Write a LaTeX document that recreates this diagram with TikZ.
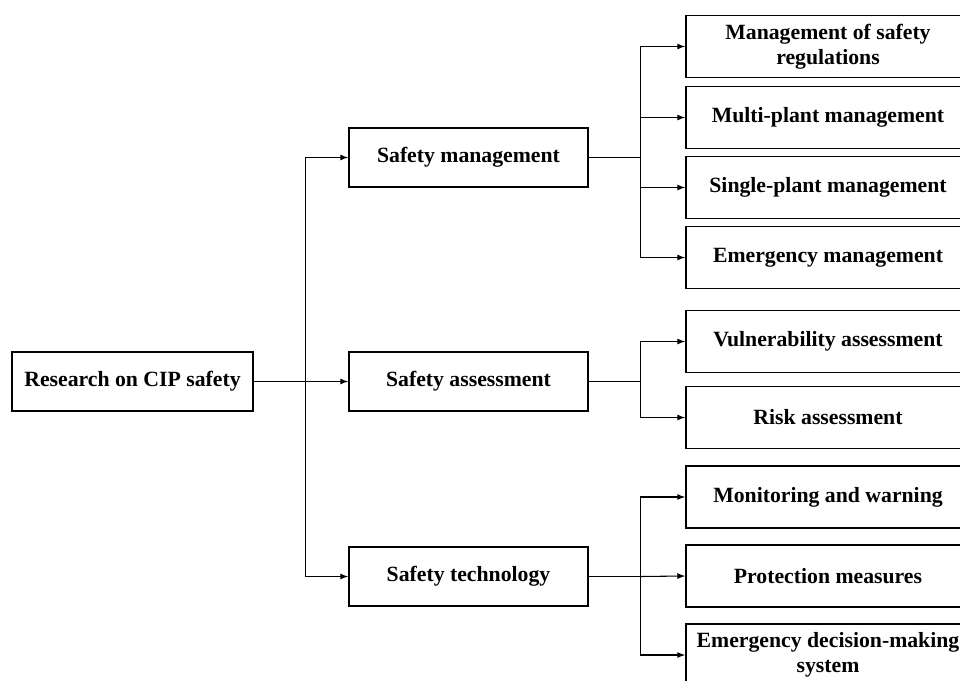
\documentclass[tikz,border=0pt]{standalone}
\usepackage{fontspec}
\setmainfont{Liberation Serif}
\usepackage{tikz}
\usetikzlibrary{calc,arrows.meta}

\tikzset{
  box/.style={draw, line width=1.1pt, fill=white, inner sep=0pt, align=center,
    font=\fontsize{16.3}{19}\selectfont\bfseries},
  rootbox/.style={box, minimum width=180.75pt, minimum height=44.25pt},
  midbox/.style={box, minimum width=179.25pt, minimum height=44.25pt},
  leafbox/.style={box, minimum width=213pt, minimum height=46.5pt},
  link/.style={line width=0.8pt},
  arrow/.style={link, -{Latex[length=6pt,width=4.5pt]}}
}

\begin{document}
\begin{tikzpicture}[x=0.75pt, y=-0.75pt]
        \useasboundingbox (0,0) rectangle (960,681);
        \clip (0,0) rectangle (960,681);
        \node[rootbox] (root) at (132.5, 381.5) {Research on CIP safety};
        \node[midbox] (sm) at (468.5, 157.5) {Safety management};
        \node[midbox] (sa) at (468.5, 381.5) {Safety assessment};
        \node[midbox] (st) at (468.5, 576.5) {Safety technology};
        \node[leafbox] (r1) at (828,  46.5) {Management of safety\\regulations};
        \node[leafbox] (r2) at (828, 117.5) {Multi-plant management};
        \node[leafbox] (r3) at (828, 187.5) {Single-plant management};
        \node[leafbox] (r4) at (828, 257.5) {Emergency management};
        \node[leafbox] (r5) at (828, 341.5) {Vulnerability assessment};
        \node[leafbox] (r6) at (828, 417.5) {Risk assessment};
        \node[leafbox] (r7) at (828, 497)   {Monitoring and warning};
        \node[leafbox] (r8) at (828, 576)   {Protection measures};
        \node[leafbox] (r9) at (828, 655)   {Emergency decision-making\\system};
        \coordinate (rootj) at ($(root.east)+(52,0)$);
        \coordinate (smj) at ($(sm.east)+(52,0)$);
        \coordinate (saj) at ($(sa.east)+(52,0)$);
        \coordinate (stj) at ($(st.east)+(52,0)$);
        \draw[arrow] (root.east) -- (sa.west);
        \draw[arrow] (rootj) |- (sm.west);
        \draw[arrow] (rootj) |- (st.west);
        \draw[link] (sm.east) -- (smj);
        \draw[arrow] (smj) |- (r1.west); \draw[arrow] (smj) |- (r2.west);
        \draw[arrow] (smj) |- (r3.west); \draw[arrow] (smj) |- (r4.west);
        \draw[link] (sa.east) -- (saj);
        \draw[arrow] (saj) |- (r5.west); \draw[arrow] (saj) |- (r6.west);
        \draw[link] (st.east) -- (stj);
        \draw[arrow] (stj) |- (r7.west); \draw[arrow] (stj) -- (r8.west);
        \draw[arrow] (stj) |- (r9.west);
    \end{tikzpicture}
\end{document}
